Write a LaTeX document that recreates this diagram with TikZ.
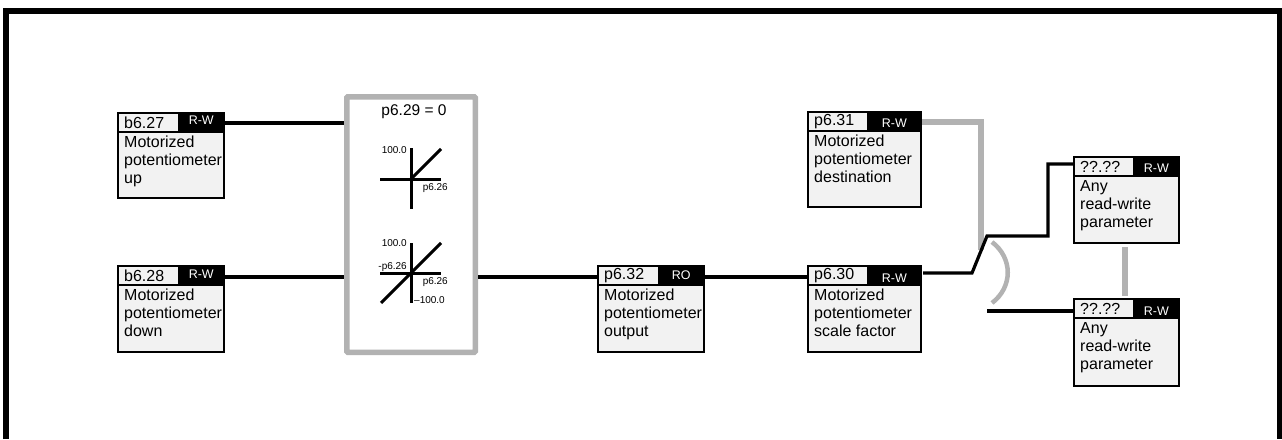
\documentclass[tikz,border=0pt]{standalone}
\usepackage{fontspec}
\setmainfont{Liberation Sans}
\usepackage{xcolor}
\usetikzlibrary{calc}
\definecolor{wiregray}{HTML}{B2B2B2}
\definecolor{bodygray}{HTML}{F2F2F2}

\begin{document}
\begin{tikzpicture}[x=1pt, y=-1pt, line join=miter, line cap=butt,
	wire/.style={line width=3.2pt, black},
	link/.style={line width=6pt, wiregray},
	axis/.style={line width=3pt, black},
	parambody/.style={draw=black, line width=2pt, fill=bodygray, anchor=north west, inner sep=0pt},
	paramcode/.style={anchor=west, inner sep=0pt, font=\fontsize{16}{18}\selectfont},
	paramtag/.style={fill=black, anchor=north east, inner sep=0pt},
	paramflag/.style={text=white, inner sep=0pt, font=\fontsize{12.5}{14}\selectfont},
	paramtext/.style={anchor=north west, align=left, inner sep=0pt, font=\fontsize{16}{18}\selectfont},
	small/.style={inner sep=0pt, font=\fontsize{10}{12}\selectfont}]
	\useasboundingbox (0,0) rectangle (1282,439);
	
	% --- 1. 外框 (底边敞开) ---
	\coordinate (FL) at (5.8,439);
	\coordinate (TL) at (5.8,11);
	\coordinate (TR) at (1279.5,11);
	\coordinate (FR) at (1279.5,439);
	\draw[line width=5.6pt, black] (FL) -- (TL) -- (TR) -- (FR);
	
	% --- 2. 参数框 ---
	\foreach \name/\x/\y/\w/\h/\sp/\dy/\code/\tag/\txt in {
		bup/117/112/106/85/61/-3/b6.27/R-W/{Motorized\\potentiometer\\up},
		bdown/117/265/106/86/61/-2/b6.28/R-W/{Motorized\\potentiometer\\down},
		pout/597/265/106/86/61/-1/p6.32/RO/{Motorized\\potentiometer\\output},
		pdest/807/111/113/95/60/1/p6.31/R-W/{Motorized\\potentiometer\\destination},
		pscale/807/265/113/86/60/2/p6.30/R-W/{Motorized\\potentiometer\\scale factor},
		pany/1073/156/105/86/60/1/??.??/R-W/{Any\\read-write\\parameter},
		pother/1073/298/105/87/60/2/??.??/R-W/{Any\\read-write\\parameter}}
	{
		\node[parambody, minimum width=\w pt, minimum height=\h pt] (\name) at (\x,\y) {};
		\node[paramtag, minimum width=\w pt+2pt-\sp pt, minimum height=21pt] (\name tag) at (\name.north east) {};
		\node[paramflag] (\name flag) at ($(\name tag.center)+(0,\dy)$) {\tag};
		\draw[line width=2pt, black] ($(\name.north west)+(0,20)$) -- ($(\name.north east)+(0,20)$);
		\node[paramcode] (\name code) at ($(\name.north west)+(7,11)$) {\code};
		\node[paramtext] (\name text) at ($(\name.north west)+(7,24)$) {\txt};
	}
	
	% --- 3. 灰色方框和两条特性曲线 ---
	\node[draw=wiregray, line width=5.5pt, fill=white, rounded corners=1pt, anchor=north west, minimum width=128.5pt, minimum height=255.5pt, inner sep=0pt] (gate) at (344,94) {};
	\node[inner sep=0pt, font=\fontsize{15.5}{17}\selectfont] (gatetitle) at (414,112) {p6.29 = 0};
	
	\coordinate (UO) at (411,179);
	\coordinate (UT) at (411,148);
	\coordinate (UB) at (411,209);
	\coordinate (UL) at (380,179);
	\coordinate (UR) at (441,179);
	\coordinate (UE) at (441,149);
	\draw[axis] (UT) -- (UB);
	\draw[axis] (UL) -- (UR);
	\draw[axis] (UO) -- (UE);
	\node[small, anchor=east] (uhigh) at (407,150) {100.0};
	\node[small, anchor=east] (ugain) at (448,188) {p6.26};
	
	\coordinate (DT) at (411,243);
	\coordinate (DB) at (411,303);
	\coordinate (DL) at (380,273);
	\coordinate (DR) at (441,273);
	\coordinate (DS) at (381,303);
	\coordinate (DE) at (441,243);
	\draw[axis] (DT) -- (DB);
	\draw[axis] (DL) -- (DR);
	\draw[axis] (DS) -- (DE);
	\node[small, anchor=east] (dhigh) at (407,243) {100.0};
	\node[small, anchor=east] (dneg) at (407,267) {-p6.26};
	\node[small, anchor=east] (dgain) at (448,282) {p6.26};
	\node[small, anchor=west] (dlow) at (414,300) {--100.0};
	
	% --- 4. 连线 ---
	\coordinate (RU) at (0,123);
	\coordinate (RL) at (0,277);
	\draw[wire] (bup.east |- RU) -- (gate.west |- RU);
	\draw[wire] (bdown.east |- RL) -- (gate.west |- RL);
	\draw[wire] (gate.east |- RL) -- (pout.west |- RL);
	\draw[wire] (pout.east |- RL) -- (pscale.west |- RL);
	
	% --- 5. 开关部分 ---
	\coordinate (SA) at (981,122);
	\coordinate (SB) at (981,250);
	\coordinate (ST) at (923,273);
	\coordinate (SK) at (972,273);
	\coordinate (SP) at (987,236);
	\coordinate (SQ) at (1048,236);
	\coordinate (SR) at (1048,164);
	\coordinate (SL) at (987,311);
	\coordinate (AU) at (992,242);
	\coordinate (AD) at (992,303);
	\draw[link] (pdesttag.east |- SA) -- (SA) -- (SB);
	\draw[line width=4.5pt, wiregray] (AU) .. controls (1013,258) and (1013,287) .. (AD);
	\draw[wire] (ST) -- (SK) -- (SP) -- (SQ) -- (SR) -- (SR -| pany.west);
	\draw[wire] (SL) -- (SL -| pother.west);
	\coordinate (LU) at (1125,247);
	\coordinate (LD) at (1125,296);
	\draw[link] (LU) -- (LD);
	
\end{tikzpicture}
\end{document}
